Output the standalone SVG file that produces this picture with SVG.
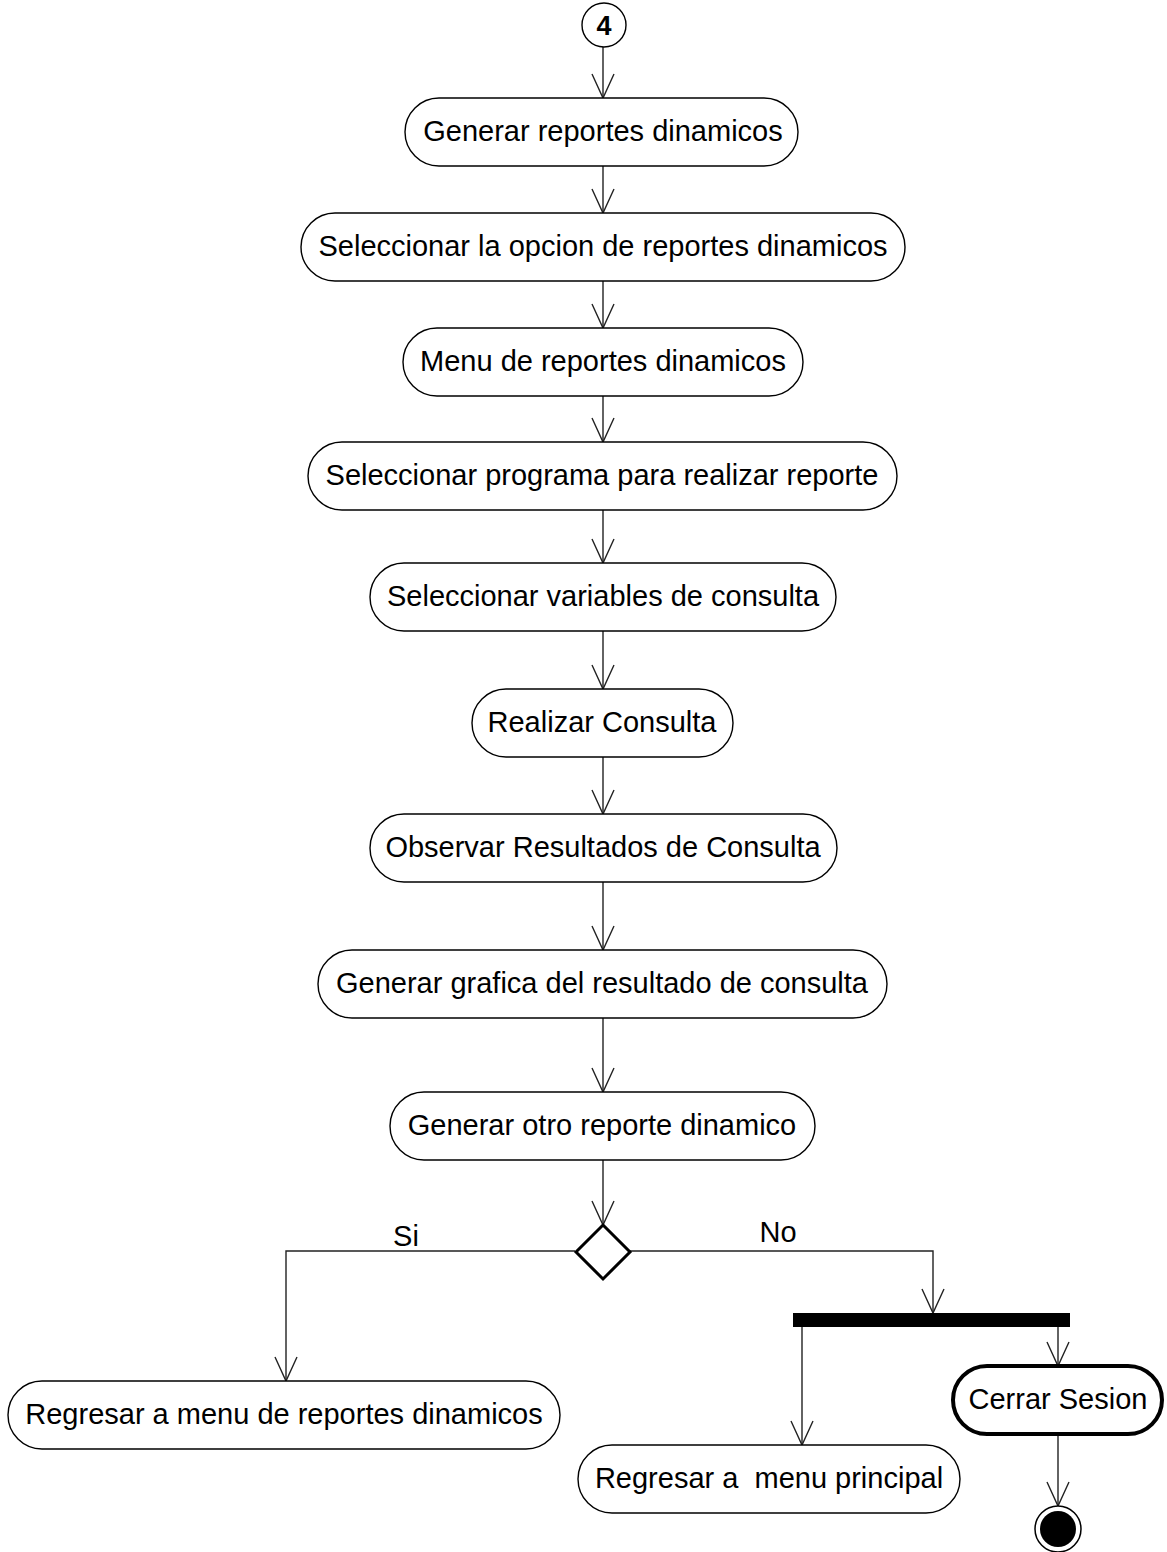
<svg xmlns="http://www.w3.org/2000/svg" width="1167" height="1552" viewBox="0 0 1167 1552">
<style>
.node rect{fill:#fff;stroke:#000;stroke-width:1.4}
.node text, .lbl{font-family:"Liberation Sans",Arial,sans-serif;font-size:29px;fill:#000;text-anchor:middle}
.edge{fill:none;stroke:#222;stroke-width:1.4;marker-end:url(#arr)}
</style>
<defs>
<marker id="arr" markerUnits="userSpaceOnUse" viewBox="-26 -13 28 26" markerWidth="28" markerHeight="26" refX="0" refY="0" orient="auto" overflow="visible">
<path d="M-24,-11 L0,0 L-24,11" fill="none" stroke="#222" stroke-width="1.4"/>
</marker>
</defs>
<rect width="1167" height="1552" fill="#fff"/>
<g id="connectors">
<path class="edge" d="M603,47 V98"/>
<path class="edge" d="M603,166 V213"/>
<path class="edge" d="M603,281 V328"/>
<path class="edge" d="M603,396 V442"/>
<path class="edge" d="M603,510 V563"/>
<path class="edge" d="M603,631 V689"/>
<path class="edge" d="M603,757 V814"/>
<path class="edge" d="M603,882 V950"/>
<path class="edge" d="M603,1018 V1092"/>
<path class="edge" d="M603,1160 V1225"/>
<path class="edge" d="M575,1251 H286 V1381"/>
<path class="edge" d="M630,1251 H933 V1313"/>
<path class="edge" d="M802,1327 V1445"/>
<path class="edge" d="M1058,1327 V1366"/>
<path class="edge" d="M1058,1435 V1506"/>
<text class="lbl" x="406" y="1246">Si</text>
<text class="lbl" x="778" y="1242">No</text>
</g>
<g id="start4">
<circle cx="604" cy="25" r="22" fill="#fff" stroke="#000" stroke-width="1.4"/>
<text x="604" y="35" style="font-family:'Liberation Sans',Arial,sans-serif;font-size:27px;font-weight:bold;text-anchor:middle">4</text>
</g>
<g id="n1" class="node"><rect x="405" y="98" width="393" height="68" rx="34"/><text x="603" y="141">Generar reportes dinamicos</text></g>
<g id="n2" class="node"><rect x="301" y="213" width="604" height="68" rx="34"/><text x="603" y="256">Seleccionar la opcion de reportes dinamicos</text></g>
<g id="n3" class="node"><rect x="403" y="328" width="400" height="68" rx="34"/><text x="603" y="371">Menu de reportes dinamicos</text></g>
<g id="n4" class="node"><rect x="308" y="442" width="589" height="68" rx="34"/><text x="602" y="485">Seleccionar programa para realizar reporte</text></g>
<g id="n5" class="node"><rect x="370" y="563" width="466" height="68" rx="34"/><text x="603" y="606">Seleccionar variables de consulta</text></g>
<g id="n6" class="node"><rect x="472" y="689" width="261" height="68" rx="34"/><text x="602" y="732">Realizar Consulta</text></g>
<g id="n7" class="node"><rect x="370" y="814" width="467" height="68" rx="34"/><text x="603" y="857">Observar Resultados de Consulta</text></g>
<g id="n8" class="node"><rect x="318" y="950" width="569" height="68" rx="34"/><text x="602" y="993">Generar grafica del resultado de consulta</text></g>
<g id="n9" class="node"><rect x="390" y="1092" width="425" height="68" rx="34"/><text x="602" y="1135">Generar otro reporte dinamico</text></g>
<g id="decision"><path d="M603,1225 L630,1252 L603,1279 L576,1252 Z" fill="#fff" stroke="#000" stroke-width="3"/></g>
<g id="fork"><rect x="793" y="1313" width="277" height="14" fill="#000"/></g>
<g id="n10" class="node"><rect x="8" y="1381" width="552" height="68" rx="34"/><text x="284" y="1424">Regresar a menu de reportes dinamicos</text></g>
<g id="n11" class="node"><rect x="578" y="1445" width="382" height="68" rx="34"/><text x="769" y="1488" style="white-space:pre">Regresar a  menu principal</text></g>
<g id="n12" class="node"><rect x="953" y="1366" width="209" height="68" rx="34" style="stroke-width:4"/><text x="1058" y="1409">Cerrar Sesion</text></g>
<g id="end"><circle cx="1058" cy="1529" r="23" fill="#fff" stroke="#000" stroke-width="1.5"/><circle cx="1058" cy="1529" r="18" fill="#000"/></g>
</svg>
